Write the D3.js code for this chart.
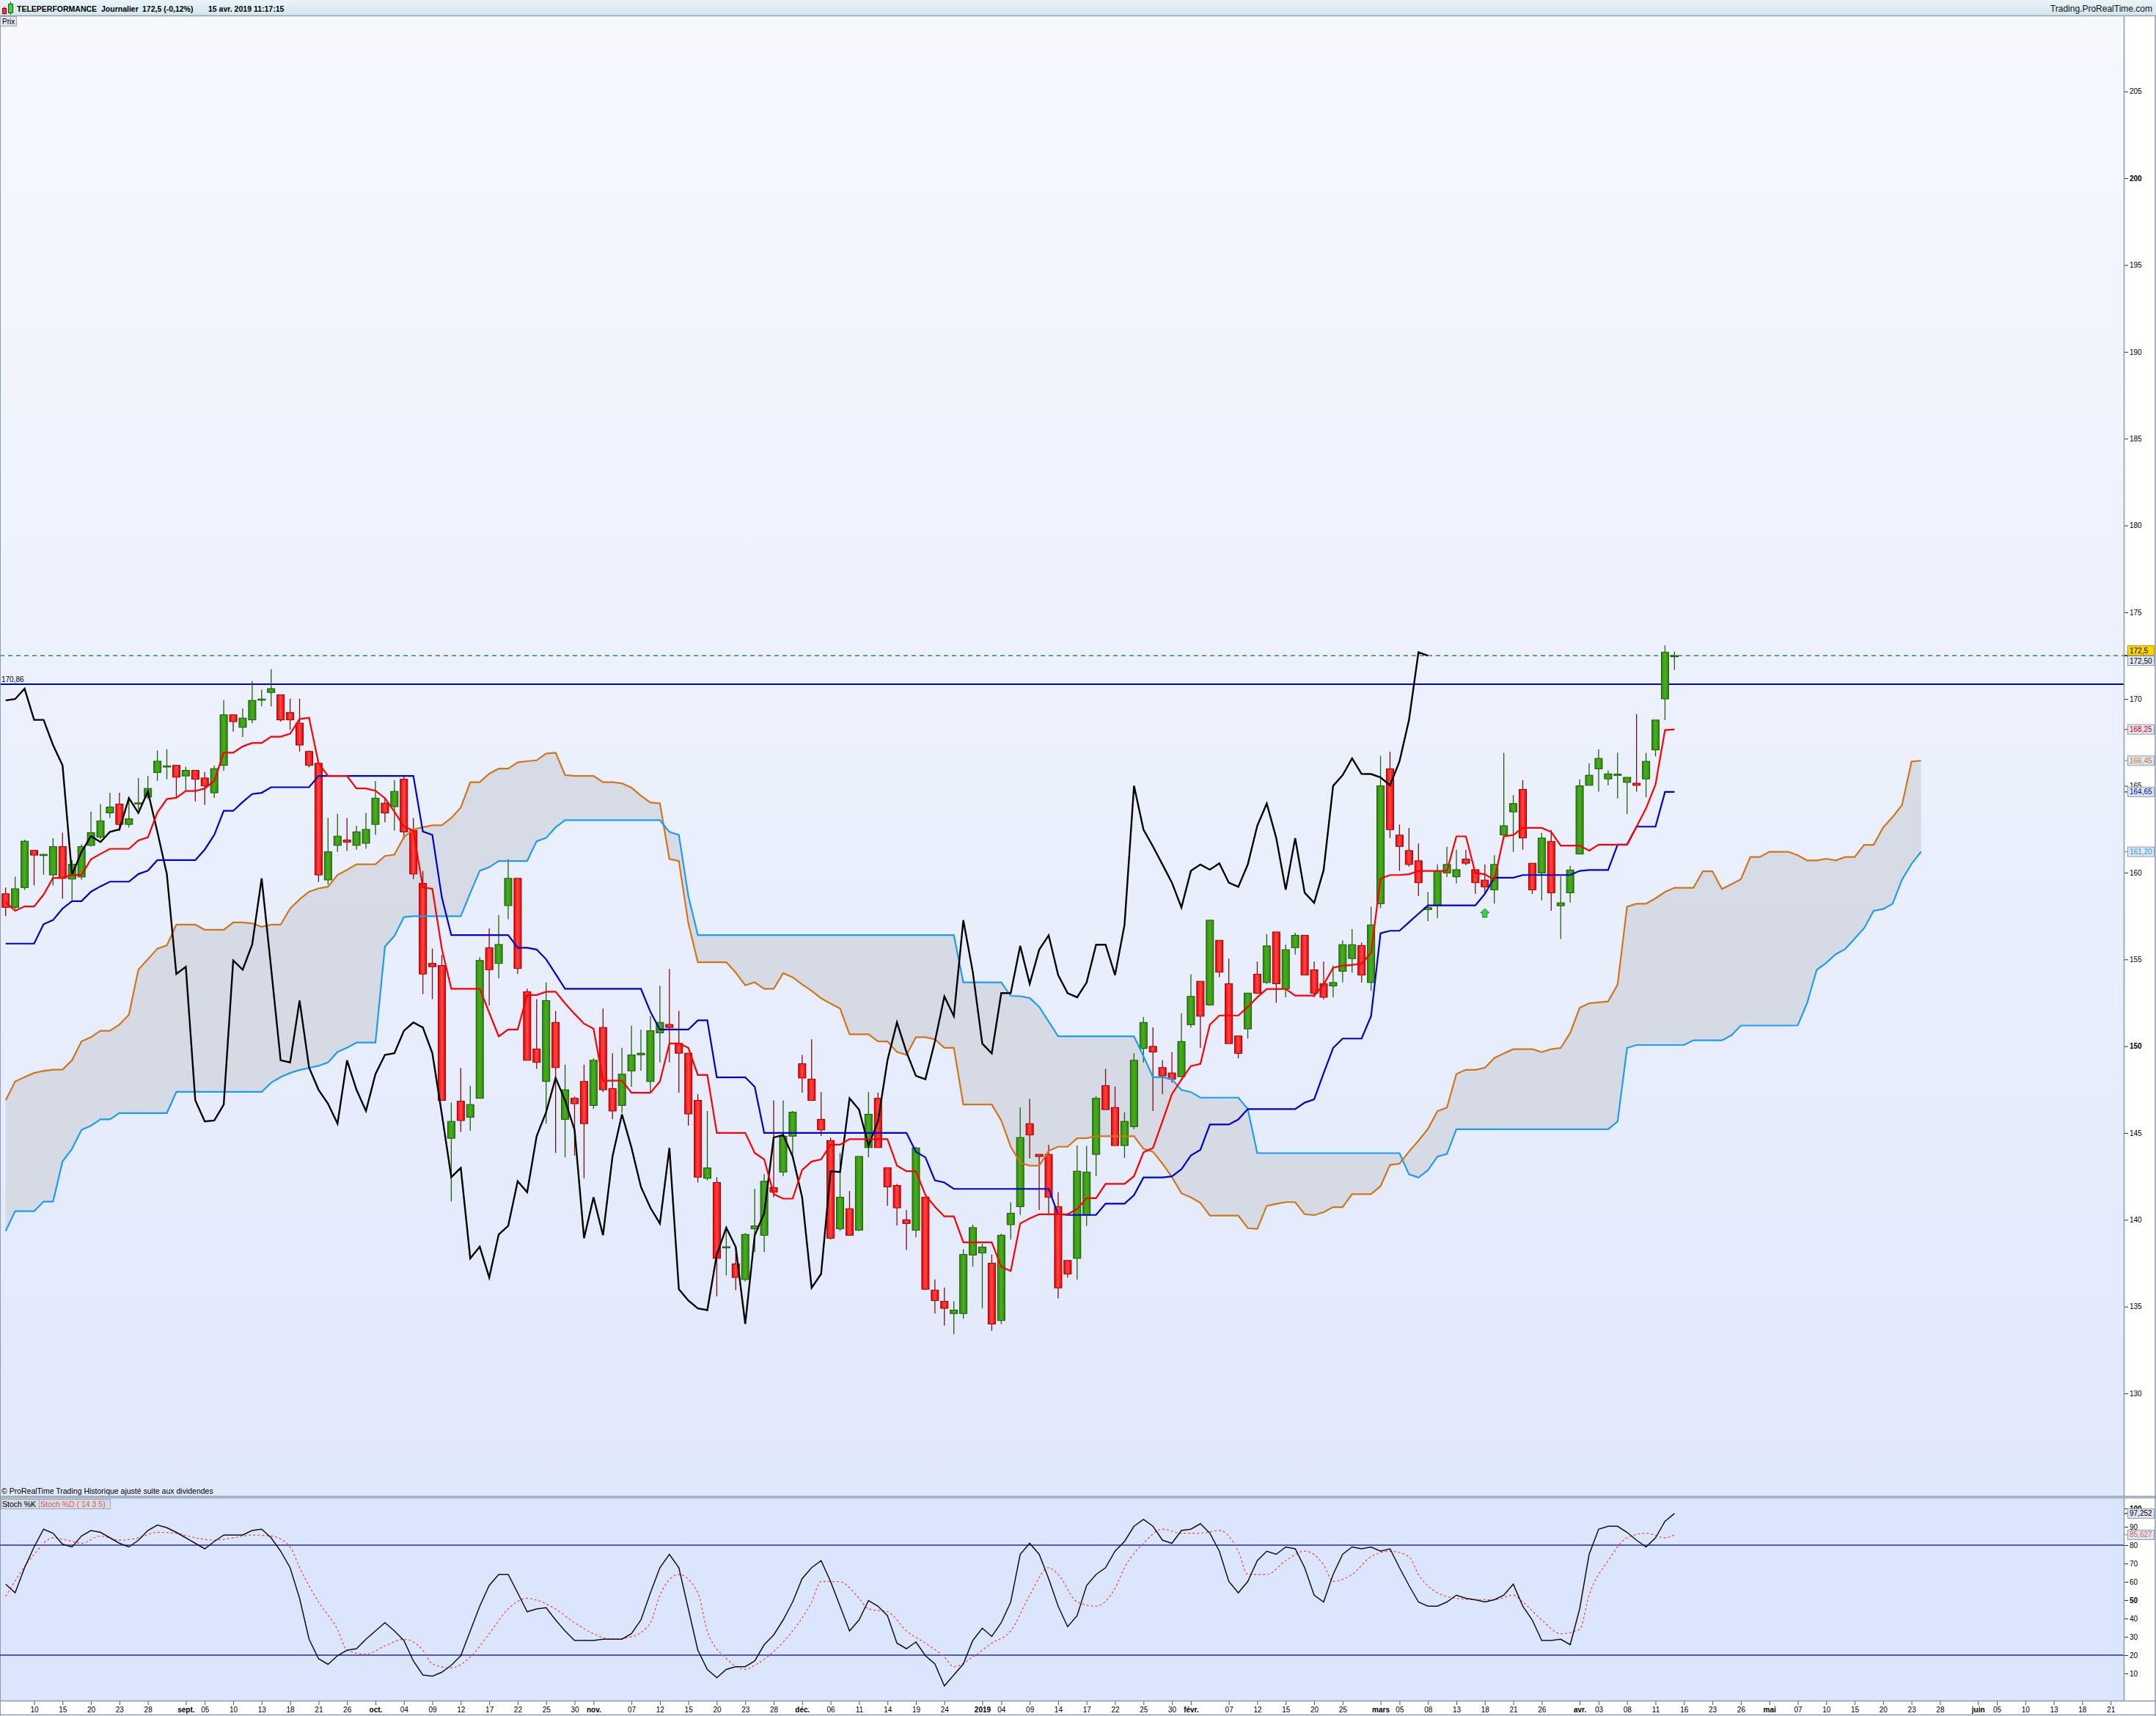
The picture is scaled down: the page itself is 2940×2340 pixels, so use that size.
<!DOCTYPE html>
<html><head><meta charset="utf-8">
<script src="https://cdnjs.cloudflare.com/ajax/libs/d3/7.8.5/d3.min.js"></script>
<style>
body{margin:0;background:#fff;}
svg{display:block;}
text{font-family:"Liberation Sans",Arial,sans-serif;}
</style></head><body>
<svg id="c" width="2940" height="2340"></svg>
<script>
// ---------------- DATA ----------------
const holidays = ["2018-12-25","2018-12-26","2019-01-01","2019-04-19","2019-04-22","2019-05-01"];
const firstDay = "2018-08-07", lastAxisDay = "2019-06-24";

const opens = [158.78,158.0,159.14,161.28,161.0,159.87,161.5,159.63,159.75,161.57,
162.05,163.44,163.95,162.78,163.98,164.36,165.77,166.1,166.18,165.57,
165.89,165.45,164.6,166.18,169.09,168.37,168.8,169.97,170.38,170.24,
169.22,168.61,166.98,166.3,159.58,161.57,161.88,161.57,161.69,162.78,
164.0,163.8,165.38,162.42,159.38,154.77,154.65,144.7,146.83,145.91,
147.0,155.67,154.77,158.1,159.67,153.14,149.84,147.97,151.37,145.79,
147.0,147.97,146.59,151.08,147.56,146.59,148.58,149.5,147.97,150.77,
151.25,150.16,149.6,146.88,142.39,142.15,138.4,137.46,136.56,139.48,
139.11,141.86,142.75,144.82,148.99,148.1,145.79,144.57,139.48,140.64,
139.4,144.16,147.0,143.0,141.98,140.0,139.4,141.3,135.95,135.3,
134.6,134.6,137.97,138.09,137.5,134.2,139.72,140.76,145.54,143.77,
143.77,140.76,137.66,137.78,140.28,143.77,147.73,146.47,144.28,145.37,
149.87,149.99,148.77,148.46,148.25,151.24,153.74,152.38,156.1,153.6,
150.59,151.0,154.15,153.67,156.58,153.3,155.68,156.39,154.4,153.6,
153.47,154.32,155.05,155.8,153.67,158.21,165.98,162.16,161.27,160.68,
157.87,158.11,159.98,159.76,160.78,160.17,159.57,159.01,162.17,163.5,
164.79,160.54,159.98,161.8,158.09,158.84,161.07,165.03,165.98,165.4,
165.6,165.2,165.15,165.4,167.07,170.01,172.45];
const highs = [159.14,159.77,161.9,161.3,161.1,161.98,162.3,160.72,161.64,163.51,
163.95,164.6,164.6,164.36,165.45,165.57,167.03,167.1,166.2,166.1,
165.9,165.8,166.18,169.94,169.1,169.46,171.04,170.55,171.72,170.24,
170.02,170.02,167.03,166.3,163.15,163.39,163.15,162.7,163.44,165.28,
164.31,165.33,165.53,163.15,160.1,155.62,155.26,146.76,148.75,147.73,
155.13,156.79,157.56,160.77,159.67,153.31,152.71,153.68,152.03,148.94,
147.1,148.94,149.3,152.17,149.6,149.91,151.18,150.96,151.74,153.48,
154.45,152.03,149.6,147.24,146.27,142.46,139.48,138.5,139.24,141.78,
142.63,146.88,146.88,146.27,149.5,150.4,147.36,144.74,143.85,141.66,
143.65,147.36,147.32,143.0,142.07,140.57,144.21,141.3,136.56,136.1,
135.3,138.3,139.72,138.62,138.0,139.2,141.01,146.47,146.97,143.77,
144.33,141.59,137.66,144.28,144.26,147.12,148.7,147.68,146.2,149.6,
151.69,151.08,149.19,149.67,151.9,154.15,153.74,157.26,156.1,155.05,
150.59,153.06,154.88,156.46,156.58,155.85,156.53,156.39,154.88,154.88,
154.64,156.1,156.75,155.97,158.04,166.73,166.97,162.77,162.58,161.68,
158.89,160.47,161.49,161.32,161.32,160.17,160.47,161.0,166.9,164.47,
165.32,160.54,162.29,162.46,159.79,160.39,165.37,166.29,167.09,165.88,
166.9,165.49,169.13,166.9,168.79,173.09,172.73];
const lows = [157.49,157.9,159.0,159.26,159.87,159.26,158.5,158.41,159.6,161.5,
161.93,163.15,162.4,162.6,163.63,164.24,165.28,165.38,164.36,164.72,
164.1,163.9,164.31,165.87,168.12,167.81,168.6,169.58,169.58,168.7,
168.24,166.98,166.06,159.46,159.31,161.2,161.25,161.33,161.38,162.17,
162.9,162.42,161.93,159.63,153.0,152.71,146.88,141.05,145.06,145.13,
147.0,152.34,153.92,157.32,154.16,149.19,148.7,145.54,143.85,143.6,
143.7,142.39,146.4,147.36,145.79,146.15,147.66,148.58,147.36,149.07,
149.07,147.32,145.42,142.15,142.27,135.59,136.8,135.95,136.44,138.14,
138.14,141.3,142.51,143.72,147.32,146.88,144.82,138.87,139.36,139.11,
139.36,143.6,144.16,140.81,139.67,138.26,138.99,135.95,134.6,133.9,
133.4,134.3,137.3,134.9,133.6,134.0,138.87,140.28,143.53,140.57,
140.33,135.47,136.68,136.56,139.65,142.51,146.35,144.28,143.56,145.23,
149.07,146.27,147.24,147.9,148.2,151.07,149.9,152.33,153.98,150.15,
149.3,150.44,153.01,153.6,152.5,152.82,155.29,154.1,152.82,152.7,
152.82,153.67,154.23,153.67,153.18,157.96,161.99,160.1,160.35,158.65,
157.2,157.38,159.74,159.37,160.42,158.77,158.77,158.21,162.12,161.2,
161.32,158.77,158.4,157.8,156.17,158.28,161.07,165.03,164.67,165.03,
164.28,163.38,164.67,164.35,166.7,168.79,171.68];
const closes = [158.0,159.07,161.81,161.01,161.05,161.5,159.67,160.48,161.5,162.3,
162.98,163.78,162.78,163.1,164.02,164.85,166.42,166.15,165.5,165.89,
165.38,165.0,165.99,169.09,168.7,168.9,169.92,170.0,170.6,168.8,
168.8,167.35,166.18,159.87,161.2,162.1,161.76,162.35,162.49,164.29,
163.44,164.68,162.35,159.92,154.16,154.58,146.88,145.67,145.72,146.64,
154.94,154.41,155.86,159.67,154.48,149.19,149.07,152.63,148.77,147.49,
146.69,145.54,149.19,147.49,146.27,148.39,149.5,149.6,150.89,151.37,
151.08,149.6,146.1,142.46,142.99,137.78,138.45,136.68,139.16,139.65,
142.22,141.59,144.82,146.2,148.17,146.88,145.18,138.94,141.3,139.11,
143.65,146.08,144.16,141.9,140.69,139.79,144.14,136.0,135.35,134.9,
134.8,138.0,139.55,138.43,134.0,139.11,140.38,144.74,144.89,143.65,
141.3,136.08,136.88,142.8,142.75,147.0,146.35,144.28,145.67,149.19,
151.37,149.67,148.29,148.1,150.27,152.87,151.73,157.26,154.27,150.15,
149.59,153.06,153.06,155.78,153.6,155.56,156.39,154.1,153.06,152.82,
153.67,155.85,155.85,154.1,156.99,165.0,162.48,161.51,160.47,159.42,
157.99,160.1,160.47,160.17,160.54,159.42,159.18,160.47,162.7,163.98,
162.0,159.01,161.99,158.84,158.26,160.15,165.0,165.61,166.58,165.69,
165.68,165.49,165.03,166.41,168.79,172.7,172.5];

const tenkan = [158.29,157.8,158.05,158.05,158.73,159.7,159.7,159.87,159.87,160.77,
161.08,161.37,161.37,161.37,161.86,162.03,163.46,164.24,164.31,164.7,
164.7,164.85,165.28,166.91,166.91,167.27,167.47,167.47,167.83,167.83,
168.0,168.85,168.92,166.3,165.57,165.57,165.57,164.85,164.85,164.72,
164.29,163.51,162.66,162.42,159.14,159.07,155.62,153.31,153.31,153.31,
153.31,151.93,150.57,150.96,150.96,152.95,152.95,153.14,153.14,152.47,
151.86,151.3,151.01,148.02,148.02,148.02,147.32,147.32,147.32,147.97,
150.16,150.16,149.91,148.34,148.34,145.01,145.01,145.01,145.01,143.85,
143.48,141.49,141.22,141.22,142.87,143.36,143.48,144.33,144.33,144.65,
144.65,144.65,144.65,144.65,143.12,142.8,142.8,141.42,140.76,140.2,
140.2,138.7,138.7,138.7,138.7,137.29,137.05,139.79,140.08,140.32,
140.32,140.32,140.32,140.62,141.25,141.25,142.07,142.07,142.07,142.51,
143.89,144.14,145.67,147.24,148.08,148.86,148.98,151.24,151.77,151.77,
151.77,152.26,152.82,153.3,153.3,153.3,152.92,152.92,152.92,153.55,
154.52,154.64,154.68,154.76,155.37,159.66,159.86,159.86,159.91,160.1,
160.1,160.1,160.1,162.09,162.09,159.98,159.91,159.57,162.09,162.17,
162.58,162.58,162.58,162.34,161.56,161.56,161.56,161.27,161.61,161.61,
161.61,161.61,162.65,163.7,165.08,168.21,168.25];
const kijun = [155.91,155.91,155.91,155.91,157.03,157.27,157.93,158.36,158.36,158.9,
159.21,159.48,159.48,159.48,159.92,160.11,160.72,160.72,160.72,160.72,
160.72,161.33,162.17,163.56,163.56,164.07,164.53,164.6,164.92,164.92,
164.92,164.92,164.92,165.57,165.57,165.57,165.57,165.57,165.57,165.57,
165.57,165.57,165.57,165.57,162.37,162.17,158.58,156.4,156.4,156.4,
156.4,156.4,156.4,156.4,155.67,155.67,155.57,155.01,154.16,153.31,
153.31,153.31,153.31,153.31,153.31,153.31,153.31,153.31,151.98,150.96,
150.96,150.96,150.96,151.49,151.49,148.21,148.21,148.21,148.21,147.66,
145.01,145.01,145.01,145.01,145.01,145.01,145.01,145.01,145.01,145.01,
145.01,145.01,145.01,145.01,145.01,145.01,143.92,143.6,142.27,142.15,
141.78,141.78,141.78,141.78,141.78,141.78,141.78,141.78,141.78,141.78,
141.78,140.32,140.28,140.28,140.28,140.28,140.93,140.93,140.93,141.42,
142.44,142.44,142.44,142.5,142.91,143.71,144.03,145.49,145.49,145.49,
145.78,146.38,146.38,146.38,146.38,146.38,146.38,146.75,146.94,148.45,
149.9,150.44,150.44,150.44,151.73,156.51,156.65,156.65,157.14,157.63,
158.11,158.11,158.11,158.11,158.11,158.11,158.77,159.71,159.71,159.71,
159.86,159.86,159.86,159.86,159.86,159.86,160.1,160.15,160.15,160.15,
161.61,161.61,162.65,162.65,162.65,164.65,164.65];
const senkouA = [146.88,147.97,148.22,148.46,148.58,148.65,148.65,149.19,150.28,150.52,
150.89,150.89,151.25,151.81,154.41,155.01,155.62,155.81,157.0,157.0,
157.0,156.71,156.71,156.71,157.13,157.13,157.08,156.88,157.0,157.0,
157.93,158.46,158.9,159.09,159.19,159.87,160.16,160.48,160.48,160.48,
160.96,161.03,162.05,162.49,162.61,162.73,162.73,163.15,163.75,165.21,
165.21,165.7,165.99,165.99,166.35,166.42,166.47,166.86,166.91,165.62,
165.57,165.57,165.57,165.21,165.21,165.14,164.9,164.43,164.04,163.99,
160.79,160.67,157.08,154.84,154.84,154.84,154.84,154.24,153.51,153.68,
153.31,153.31,154.21,153.97,153.56,153.19,152.76,152.46,152.17,150.69,
150.69,150.69,150.28,150.28,149.67,149.5,150.52,150.52,150.4,149.91,
149.91,146.64,146.64,146.64,146.64,145.72,144.21,143.29,143.12,143.12,
143.97,144.21,144.21,144.7,144.7,144.82,144.82,144.82,144.82,144.82,
144.09,143.92,143.24,142.46,141.53,141.29,140.97,140.24,140.24,140.24,
140.24,139.52,139.47,140.8,140.92,141.02,141.02,140.32,140.27,140.44,
140.73,140.73,141.48,141.48,141.48,141.94,143.16,143.23,143.93,144.56,
145.24,146.26,146.46,148.4,148.64,148.64,148.76,149.32,149.59,149.83,
149.83,149.83,149.66,149.83,149.9,150.76,152.21,152.48,152.53,152.58,
153.55,158.04,158.21,158.21,158.52,158.89,159.13,159.13,159.13,160.08,
160.08,159.06,159.33,159.62,160.9,160.9,161.2,161.2,161.2,161.0,
160.7,160.7,160.8,160.7,160.9,160.9,161.6,161.6,162.6,163.2,
163.9,166.4,166.45];
const senkouB = [139.35,140.5,140.5,140.5,141.05,141.05,143.36,144.09,145.18,145.42,
145.79,145.79,146.15,146.15,146.15,146.15,146.15,146.15,147.37,147.37,
147.37,147.37,147.37,147.37,147.37,147.37,147.37,147.37,147.9,148.22,
148.46,148.63,148.75,148.87,149.07,149.67,149.91,150.21,150.21,150.21,
155.74,156.35,157.44,157.49,157.49,157.49,157.49,157.49,157.49,158.82,
160.11,160.31,160.67,160.67,160.67,160.67,161.81,162.0,162.61,163.02,
163.02,163.02,163.02,163.02,163.02,163.02,163.02,163.02,163.02,163.02,
162.35,162.17,158.66,156.4,156.4,156.4,156.4,156.4,156.4,156.4,
156.4,156.4,156.4,156.4,156.4,156.4,156.4,156.4,156.4,156.4,
156.4,156.4,156.4,156.4,156.4,156.4,156.4,156.4,156.4,156.4,
156.4,153.68,153.68,153.68,153.68,153.68,152.9,152.88,152.78,152.27,
151.42,150.57,150.57,150.57,150.57,150.57,150.57,150.57,150.57,150.57,
149.43,148.22,148.22,148.1,147.48,147.36,147.04,147.04,147.04,147.04,
147.04,146.38,143.84,143.84,143.84,143.84,143.84,143.84,143.84,143.84,
143.84,143.84,143.84,143.84,143.84,143.84,143.84,143.84,142.62,142.43,
142.86,143.64,143.79,145.22,145.22,145.22,145.22,145.22,145.22,145.22,
145.22,145.22,145.22,145.22,145.22,145.22,145.22,145.22,145.22,145.22,
145.66,149.9,150.07,150.07,150.07,150.07,150.07,150.07,150.34,150.34,
150.34,150.34,150.63,151.19,151.19,151.19,151.19,151.19,151.19,151.2,
152.5,154.4,154.8,155.3,155.6,156.2,156.8,157.8,157.9,158.2,
159.6,160.5,161.2];
const chikouShift = 26;

const stochK = [58.7,54,67.7,79,88.7,86.5,80.5,79,85,88,
87,84,81,79,82.7,88,91,89.5,87,84,
81,78,82,85.5,85.5,85.5,88,88.7,84,76.7,
67.7,51,28.7,18,15,19.7,22.7,23.5,28.7,33.2,
37.7,33.2,28,16.8,9.2,8.5,10.7,14.5,19.7,33.2,
46.7,58,64,64,54,43.7,45.2,45.9,39.2,33.2,
28,28,28,28.7,28.7,28.7,31.7,39.2,54,67.7,75,
67.7,45.2,22.7,12.2,7.7,12.2,13.7,13.7,16.8,25.7,
31,39.2,49,61.7,67.7,71.5,60.2,46.7,33.2,39.2,
49.8,46.7,41.5,26.5,23.5,27.2,19.7,15.2,3.2,9.2,
15.2,28,34.7,30.2,37.7,49,75,81,75,61.7,
46.7,35.5,41.5,58,64,67.7,76.7,82,90.3,94,
90.3,82.7,81,88,88.7,91.7,86.5,76.7,60.2,54,
60.2,71.5,76.7,75,79,78,67.7,52.7,49,64,
75,79,78,79,76.7,78,67.7,58,49,46.7,46.7,
49,52.7,51,50.2,49,50.2,52.7,58.7,46.7,39.2,
28,28,28.7,25.7,45.2,75,88.7,90.3,90.3,87,
82.7,79,84,93,97.252];
const stochDIdx = [0,3,5,7,8,10,12,14,16,18,20,22,24,26,28,30,31,33,35,36,38,40,42,44,45,47,49,51,53,55,56,58,60,62,64,66,68,69,71,73,74,76,78,79,81,83,85,86,88,90,91,93,95,97,99,100,102,104,106,108,110,111,113,115,117,118,120,122,124,126,128,130,131,133,135,137,139,140,142,144,146,148,149,151,153,155,157,159,160,162,164,166,167,169,171,173,175,176];
const stochDVal = [52,75,84,82,81,85,82.7,84,87,86.5,84,82.7,84,85.5,85,79,67.7,49,34,22.7,20.5,25,28.7,22.7,15.2,13,19,31.7,45.2,51,50,45.2,37.7,31.7,28.7,30,37.7,52.7,64,54,33.2,18.2,12.2,14.5,22,33.2,49,60.2,60,51,45.2,43.7,33.2,26.5,19,13.7,19,26.5,33.2,52.7,67.7,64,49,46.7,56.5,67.7,81,88.7,86.5,86.5,88,76.7,64,64,71.5,76.7,69.2,60.2,64,73.7,76.7,73.7,64,54,51,50.2,50.2,52.7,49,39.2,31.7,34,52.7,71.5,84,86.5,84,85.627];

const priceTicks = [130,135,140,145,150,155,160,165,170,175,180,185,190,195,200,205];
const stochTicks = [10,20,30,40,50,60,70,80,90,100];
const xTickDates = ["2018-08-10","2018-08-15","2018-08-20","2018-08-23","2018-08-28","2018-09-03","2018-09-05","2018-09-10","2018-09-13","2018-09-18","2018-09-21","2018-09-26","2018-10-01","2018-10-04","2018-10-09","2018-10-12","2018-10-17","2018-10-22","2018-10-25","2018-10-30","2018-11-01","2018-11-07","2018-11-12","2018-11-15","2018-11-20","2018-11-23","2018-11-28","2018-12-03","2018-12-06","2018-12-11","2018-12-14","2018-12-19","2018-12-24","2019-01-02","2019-01-04","2019-01-09","2019-01-14","2019-01-17","2019-01-22","2019-01-25","2019-01-30","2019-02-01","2019-02-07","2019-02-12","2019-02-15","2019-02-20","2019-02-25","2019-03-01","2019-03-05","2019-03-08","2019-03-13","2019-03-18","2019-03-21","2019-03-26","2019-04-01","2019-04-03","2019-04-08","2019-04-11","2019-04-16","2019-04-23","2019-04-26","2019-05-02","2019-05-07","2019-05-10","2019-05-15","2019-05-20","2019-05-23","2019-05-28","2019-06-03","2019-06-05","2019-06-10","2019-06-13","2019-06-18","2019-06-21"];
const xTickText = ["10","15","20","23","28","sept.","05","10","13","18","21","26","oct.","04","09","12","17","22","25","30","nov.","07","12","15","20","23","28","déc.","06","11","14","19","24","2019","04","09","14","17","22","25","30","févr.","07","12","15","20","25","mars","05","08","13","18","21","26","avr.","03","08","11","16","23","26","mai","07","10","15","20","23","28","juin","05","10","13","18","21"];
const levelLine = 170.86, lastPrice = 172.5;
const arrowIdx = 156, arrowPrice = 158.1;

// ---------------- LAYOUT ----------------
const W = 2940, H = 2340;
const PX1 = 2896, PY0 = 22, PY1 = 2040, SY0 = 2043, SY1 = 2319;

// trading days
const days = [];
{
  const [y0,m0,d0] = firstDay.split("-").map(Number), [y1,m1,d1] = lastAxisDay.split("-").map(Number);
  for (let t = Date.UTC(y0,m0-1,d0); t <= Date.UTC(y1,m1-1,d1); t += 86400000) {
    const d = new Date(t), wd = d.getUTCDay();
    if (wd === 0 || wd === 6) continue;
    const s = d.toISOString().slice(0,10);
    if (holidays.includes(s)) continue;
    days.push(s);
  }
}
const dayIndex = new Map(days.map((d,i)=>[d,i]));

const x = d3.scaleLinear().domain([0, 222]).range([7.7, 7.7 + 12.93*222]);
const y = d3.scaleLinear().domain([124.09, 209.34]).range([PY1, PY0]);
const ys = d3.scaleLinear().domain([0, 100]).range([2307, 2057]);

const svg = d3.select("#c");
const defs = svg.append("defs");
function vgrad(id, c1, c2){
  const g = defs.append("linearGradient").attr("id", id).attr("x1",0).attr("y1",0).attr("x2",0).attr("y2",1);
  g.append("stop").attr("offset","0%").attr("stop-color",c1);
  g.append("stop").attr("offset","100%").attr("stop-color",c2);
}
function hgrad(id, c1, c2){
  const g = defs.append("linearGradient").attr("id", id).attr("x1",0).attr("y1",0).attr("x2",1).attr("y2",0);
  g.append("stop").attr("offset","0%").attr("stop-color",c1);
  g.append("stop").attr("offset","50%").attr("stop-color",c2);
  g.append("stop").attr("offset","100%").attr("stop-color",c1);
}
vgrad("bgP", "#f6f8fe", "#e0e8fb");
vgrad("hdr", "#eaf4f8", "#d3e6ee");
hgrad("gG", "#2f8a0c", "#4aae22");
hgrad("gR", "#e80000", "#ff4a4a");
defs.append("clipPath").attr("id","clipP").append("rect").attr("x",0).attr("y",PY0).attr("width",PX1).attr("height",PY1-PY0);
defs.append("clipPath").attr("id","clipS").append("rect").attr("x",0).attr("y",SY0).attr("width",PX1).attr("height",SY1-SY0);

// backgrounds
svg.append("rect").attr("x",0).attr("y",0).attr("width",W).attr("height",H).attr("fill","#ffffff");
svg.append("rect").attr("x",0).attr("y",PY0).attr("width",PX1).attr("height",PY1-PY0).attr("fill","url(#bgP)");
svg.append("rect").attr("x",0).attr("y",SY0).attr("width",PX1).attr("height",SY1-SY0).attr("fill","#dbe5fc");

// header
svg.append("rect").attr("x",0).attr("y",0).attr("width",W).attr("height",21).attr("fill","url(#hdr)");
svg.append("line").attr("x1",0).attr("x2",W).attr("y1",21.5).attr("y2",21.5).attr("stroke","#93a3b3").attr("stroke-width",1.5);
// icon
svg.append("line").attr("x1",6).attr("x2",6).attr("y1",9).attr("y2",20).attr("stroke","#800");
svg.append("rect").attr("x",3.5).attr("y",11.5).attr("width",5).attr("height",7).attr("fill","#f33").attr("stroke","#900");
svg.append("line").attr("x1",14.5).attr("x2",14.5).attr("y1",2).attr("y2",20).attr("stroke","#1a5a06");
svg.append("rect").attr("x",11.5).attr("y",5.5).attr("width",6).attr("height",12).attr("fill","#4c4").attr("stroke","#1a5a06");
const hdrT = svg.append("text").attr("y",15.5).attr("font-size",10.5).attr("font-weight","bold").attr("fill","#000");
hdrT.append("tspan").attr("x",23).text("TELEPERFORMANCE");
hdrT.append("tspan").attr("x",138).text("Journalier");
hdrT.append("tspan").attr("x",194).text("172,5 (-0,12%)");
hdrT.append("tspan").attr("x",284).text("15 avr. 2019 11:17:15");
svg.append("text").attr("x",2935).attr("y",15.5).attr("text-anchor","end").attr("font-size",12).attr("fill","#111").text("Trading.ProRealTime.com");

// ---------------- PRICE PANEL ----------------
const gP = svg.append("g").attr("clip-path","url(#clipP)");

// cloud
const cloudIdx = d3.range(senkouA.length);
gP.append("path").datum(cloudIdx)
  .attr("d", d3.area().x(i=>x(i)).y0(i=>y(senkouA[i])).y1(i=>y(senkouB[i])))
  .attr("fill","#cfd2dc").attr("fill-opacity",0.72);

// level lines
gP.append("line").attr("x1",0).attr("x2",PX1).attr("y1",y(lastPrice)).attr("y2",y(lastPrice))
  .attr("stroke","#1f9a3c").attr("stroke-width",1.6).attr("stroke-dasharray","6,5");
gP.append("line").attr("x1",0).attr("x2",PX1).attr("y1",y(levelLine)).attr("y2",y(levelLine))
  .attr("stroke","#0000c0").attr("stroke-width",2);
gP.append("text").attr("x",2).attr("y",y(levelLine)-3).attr("font-size",10).attr("fill","#000").text("170,86");

// candles
const idx = d3.range(opens.length);
const cg = gP.append("g").selectAll("g").data(idx).join("g");
cg.append("line")
  .attr("x1",i=>x(i)).attr("x2",i=>x(i))
  .attr("y1",i=>y(highs[i])).attr("y2",i=>y(lows[i]))
  .attr("stroke",i=>closes[i]>=opens[i]?"#245f0a":"#7a1010").attr("stroke-width",1.3);
cg.append("rect")
  .attr("x",i=>x(i)-5).attr("width",10)
  .attr("y",i=>Math.min(y(opens[i]),y(closes[i])))
  .attr("height",i=>Math.max(1.6, Math.abs(y(opens[i])-y(closes[i]))))
  .attr("fill",i=>closes[i]>=opens[i]?"url(#gG)":"url(#gR)")
  .attr("stroke",i=>closes[i]>=opens[i]?"#1e5a06":"#a00000").attr("stroke-width",1);

// indicator lines
const lineOf = arr => d3.line().x((d,i)=>x(i)).y(d=>y(d))(arr);
gP.append("path").attr("d",lineOf(senkouA)).attr("fill","none").attr("stroke","#d2741a").attr("stroke-width",2.2);
gP.append("path").attr("d",lineOf(senkouB)).attr("fill","none").attr("stroke","#1d9df2").attr("stroke-width",2.2);
const chikouIdx = d3.range(closes.length - chikouShift);
gP.append("path").datum(chikouIdx)
  .attr("d", d3.line().x(i=>x(i)).y(i=>y(closes[i+chikouShift])))
  .attr("fill","none").attr("stroke","#000").attr("stroke-width",2.4);
gP.append("path").attr("d",lineOf(kijun)).attr("fill","none").attr("stroke","#0000c8").attr("stroke-width",2.2);
gP.append("path").attr("d",lineOf(tenkan)).attr("fill","none").attr("stroke","#ff0000").attr("stroke-width",2.2);

// green arrow
{
  const ax = x(arrowIdx), ay = y(arrowPrice) + 4;
  gP.append("path")
    .attr("d",`M${ax},${ay} l6,6 h-3 v6 h-6 v-6 h-3 z`)
    .attr("fill","#35d24c").attr("stroke","#138a2a").attr("stroke-width",1);
}

// price panel frame + right axis
svg.append("line").attr("x1",PX1+0.5).attr("x2",PX1+0.5).attr("y1",PY0).attr("y2",PY1).attr("stroke","#8d9bab").attr("stroke-width",1.5);
svg.append("line").attr("x1",0).attr("x2",W).attr("y1",PY1+0.5).attr("y2",PY1+0.5).attr("stroke","#8d9bab").attr("stroke-width",1.5);
svg.append("line").attr("x1",0.5).attr("x2",0.5).attr("y1",PY0).attr("y2",H).attr("stroke","#8d9bab");
svg.append("line").attr("x1",W-1).attr("x2",W-1).attr("y1",PY0).attr("y2",H).attr("stroke","#8d9bab").attr("stroke-width",1.5);

const axP = svg.append("g").attr("transform",`translate(${PX1+1},0)`)
  .call(d3.axisRight(y).tickValues(priceTicks).tickSize(5).tickPadding(2).tickFormat(d3.format("d")));
axP.select(".domain").remove();
axP.selectAll("line").attr("stroke","#333");
axP.selectAll("text").attr("font-size",10).attr("fill","#000")
  .attr("font-family","Liberation Sans, Arial, sans-serif")
  .attr("font-weight",d=>(d===150||d===200)?"bold":"normal");

// "Prix" box
svg.append("rect").attr("x",0.5).attr("y",22.5).attr("width",22).attr("height",13).attr("fill","#e1e7ef").attr("stroke","#9aa8b6");
svg.append("text").attr("x",3).attr("y",33).attr("font-size",10).attr("fill","#000").text("Prix");

// tags
function tag(v, scale, label, color, fill, stroke, mode){
  const yy = scale(v);
  const h = 14, top = mode==="above" ? yy-h : mode==="below" ? yy : yy-h/2;
  svg.append("line").attr("x1",PX1+1).attr("x2",PX1+5).attr("y1",yy).attr("y2",yy).attr("stroke",color);
  svg.append("rect").attr("x",PX1+5.5).attr("y",top+0.5).attr("width",36).attr("height",h-1).attr("fill",fill).attr("stroke",stroke);
  svg.append("text").attr("x",PX1+8).attr("y",top+h-3.5).attr("font-size",10).attr("fill",color).text(label);
}
tag(172.5, y, "172,5", "#000", "#ffd400", "#b89a00", "above");
tag(172.5, y, "172,50", "#000", "#dfe6f2", "#8d9bb0", "below");
tag(168.25, y, "168,25", "#e00000", "#dfe6f2", "#8d9bb0", "mid");
tag(166.45, y, "166,45", "#d2741a", "#dfe6f2", "#8d9bb0", "mid");
tag(164.65, y, "164,65", "#0000c8", "#dfe6f2", "#8d9bb0", "mid");
tag(161.20, y, "161,20", "#1d9df2", "#dfe6f2", "#8d9bb0", "mid");

svg.append("text").attr("x",2).attr("y",2037).attr("font-size",10.5).attr("fill","#000")
  .text("© ProRealTime Trading  Historique ajusté suite aux dividendes");

// ---------------- STOCH PANEL ----------------
const gS = svg.append("g").attr("clip-path","url(#clipS)");
[80,20].forEach(v=>{
  gS.append("line").attr("x1",0).attr("x2",PX1).attr("y1",ys(v)).attr("y2",ys(v)).attr("stroke","#2a2aa6").attr("stroke-width",1.3);
});
gS.append("path").datum(d3.range(stochDIdx.length))
  .attr("d", d3.line().x(i=>x(stochDIdx[i])).y(i=>ys(stochDVal[i])).curve(d3.curveMonotoneX))
  .attr("fill","none").attr("stroke","#f05050").attr("stroke-width",1.3).attr("stroke-dasharray","3,3");
gS.append("path").attr("d", d3.line().x((d,i)=>x(i)).y(d=>ys(d))(stochK))
  .attr("fill","none").attr("stroke","#111").attr("stroke-width",1.5);

svg.append("line").attr("x1",0).attr("x2",W).attr("y1",SY0-0.5).attr("y2",SY0-0.5).attr("stroke","#8d9bab").attr("stroke-width",1.5);
svg.append("line").attr("x1",PX1+0.5).attr("x2",PX1+0.5).attr("y1",SY0).attr("y2",SY1).attr("stroke","#8d9bab").attr("stroke-width",1.5);
svg.append("line").attr("x1",0).attr("x2",W).attr("y1",SY1+0.5).attr("y2",SY1+0.5).attr("stroke","#8d9bab").attr("stroke-width",1.5);
svg.append("line").attr("x1",0).attr("x2",W).attr("y1",H-1.5).attr("y2",H-1.5).attr("stroke","#8d9bab").attr("stroke-width",1.5);

const axS = svg.append("g").attr("transform",`translate(${PX1+1},0)`)
  .call(d3.axisRight(ys).tickValues(stochTicks).tickSize(5).tickPadding(2).tickFormat(d3.format("d")));
axS.select(".domain").remove();
axS.selectAll("line").attr("stroke","#333");
axS.selectAll("text").attr("font-size",10).attr("fill","#000")
  .attr("font-family","Liberation Sans, Arial, sans-serif")
  .attr("font-weight",d=>(d===50||d===100)?"bold":"normal");
tag(97.252, ys, "97,252", "#000", "#dfe6f2", "#8d9bb0", "mid");
tag(85.627, ys, "85,627", "#e05a5a", "#dfe6f2", "#8d9bb0", "mid");

// legend
svg.append("rect").attr("x",1.5).attr("y",2044.5).attr("width",52).attr("height",13).attr("fill","#d5dce6").attr("stroke","#9aa8b6");
svg.append("text").attr("x",3).attr("y",2055).attr("font-size",10.5).attr("fill","#000").text("Stoch %K");
svg.append("rect").attr("x",53.5).attr("y",2044.5).attr("width",97).attr("height",13).attr("fill","#d5dce6").attr("stroke","#9aa8b6");
svg.append("text").attr("x",55).attr("y",2055).attr("font-size",10.5).attr("fill","#e05a5a").text("Stoch %D ( 14 3 5)");

// ---------------- X AXIS ----------------
const xTickIdx = xTickDates.map(d=>dayIndex.get(d));
const axX = svg.append("g").attr("transform",`translate(0,${SY1+1})`)
  .call(d3.axisBottom(x).tickValues(xTickIdx).tickSize(5).tickPadding(3)
    .tickFormat((d,i)=>xTickText[i]));
axX.select(".domain").remove();
axX.selectAll("line").attr("stroke","#555");
axX.selectAll("text").attr("font-size",10).attr("fill","#000")
  .attr("font-family","Liberation Sans Narrow, Liberation Sans, Arial, sans-serif")
  .attr("font-weight",(d,i)=>/[a-zé]/.test(xTickText[i])||xTickText[i]==="2019"?"bold":"normal");
</script>
</body></html>
